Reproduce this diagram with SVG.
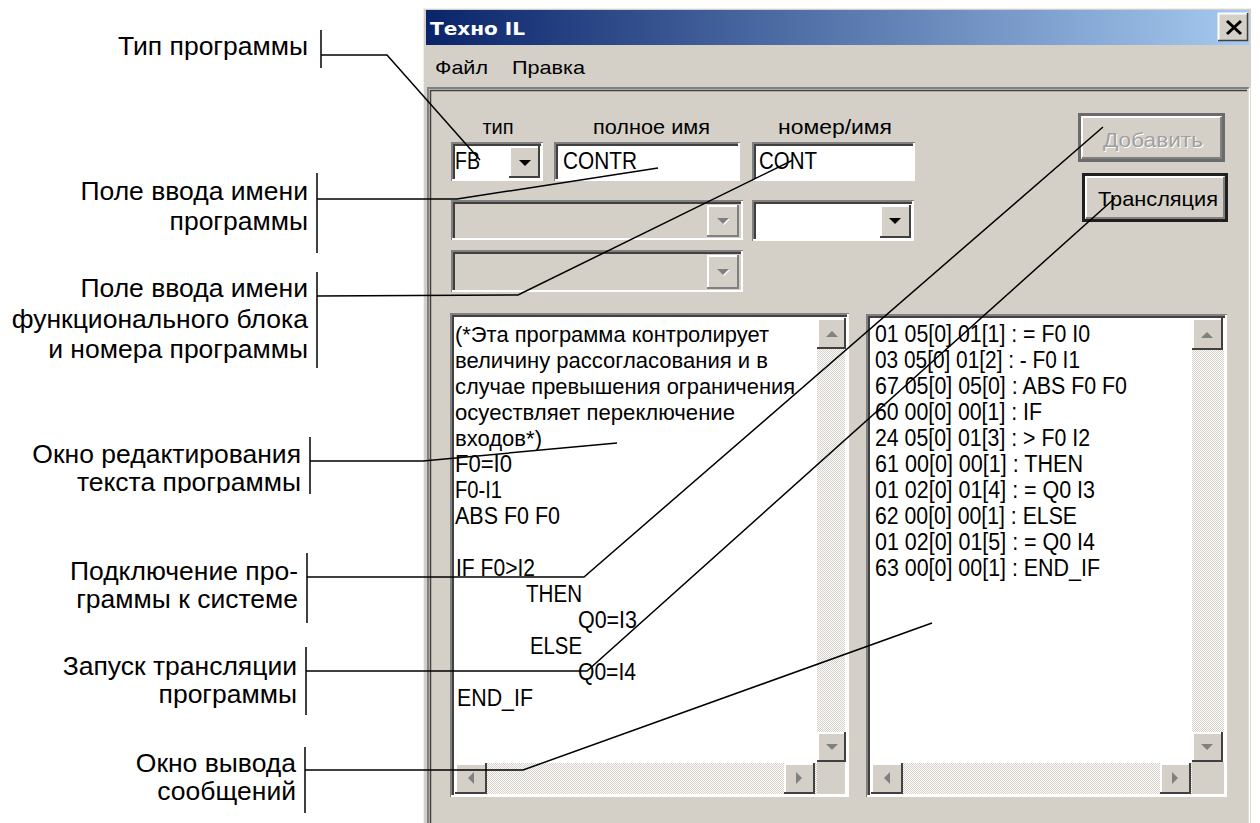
<svg xmlns="http://www.w3.org/2000/svg" width="1260" height="823" viewBox="0 0 1260 823">
<style>
.lbl{font-family:"Liberation Sans",Arial,sans-serif;font-size:26.5px;fill:#000;text-anchor:end}
.ui{font-family:"Liberation Sans",Arial,sans-serif;fill:#000}
.code{font-family:"Liberation Sans",Arial,sans-serif;font-size:23.5px;fill:#000}
.cyr{font-family:"Liberation Sans",Arial,sans-serif;font-size:22px;fill:#000}
.ld{fill:none;stroke:#000;stroke-width:1.5}
.bar{stroke:#000;stroke-width:1.5}
.d1{fill:none;stroke:#808080;stroke-width:2}
.d2{fill:none;stroke:#404040;stroke-width:2}
.l1{fill:none;stroke:#fff;stroke-width:2}
.l2{fill:none;stroke:#d4d0c8;stroke-width:2}
.face{fill:#d4d0c8}
.ag{fill:#808080}
.ab{fill:#000}
</style>
<defs>
<linearGradient id="tg" x1="0" y1="0" x2="1" y2="0">
<stop offset="0" stop-color="#0a246a"/>
<stop offset="1" stop-color="#a6caf0"/>
</linearGradient>
<pattern id="dith" width="2" height="2" patternUnits="userSpaceOnUse">
<rect width="2" height="2" fill="#ffffff"/>
<rect width="1" height="1" fill="#d4d0c8"/>
<rect x="1" y="1" width="1" height="1" fill="#d4d0c8"/>
</pattern>
<clipPath id="c4"><rect x="0" y="0" width="320" height="493"/></clipPath>
</defs>
<rect width="1260" height="823" fill="#fff"/>

<g id="window">
<rect x="423" y="8" width="828" height="820" fill="#d4d0c8"/>
<path d="M423.5 828 V8.5 H1251" stroke="#f0f0f0" fill="none"/>
<rect x="426" y="10" width="823" height="35" fill="url(#tg)"/>
<text x="430" y="35" font-family="'DejaVu Sans',Verdana,sans-serif" font-weight="bold" font-size="18" fill="#fff" textLength="95" lengthAdjust="spacingAndGlyphs">Техно IL</text>
<rect x="1218" y="13" width="30" height="28" class="face"/>
<path d="M1218.5 41 V13.5 H1248" class="l1" stroke-width="1.5"/>
<path d="M1218 40.5 H1247.5 V13" stroke="#404040" stroke-width="1.5" fill="none"/>
<path d="M1227 21 L1241 34 M1241 21 L1227 34" stroke="#000" stroke-width="3"/>
<text x="435" y="74" class="ui" font-size="19" textLength="53" lengthAdjust="spacingAndGlyphs">Файл</text>
<text x="512" y="74" class="ui" font-size="19" textLength="73" lengthAdjust="spacingAndGlyphs">Правка</text>
<path d="M428 830 V88 H1249" class="d1"/>
<path d="M430.5 830 V90.5 H1247" stroke="#404040" stroke-width="1.5" fill="none"/>
<path d="M1249.5 88 V830" stroke="#fff" stroke-width="1.5"/>
</g>

<g id="field-labels">
<text x="498" y="134" class="ui" font-size="20" text-anchor="middle">тип</text>
<text x="593" y="134" class="ui" font-size="20" textLength="117" lengthAdjust="spacingAndGlyphs">полное имя</text>
<text x="778" y="134" class="ui" font-size="20" textLength="114" lengthAdjust="spacingAndGlyphs">номер/имя</text>
</g>

<g id="combo-type">
<rect x="452" y="143" width="91" height="38" fill="#fff"/>
<path d="M452 181 V143 H543" class="d1"/><path d="M454 179 V145 H541" class="d2"/>
<path d="M452 180 H542 V143" class="l1"/>
<rect x="509" y="146" width="31" height="32" class="face"/>
<path d="M510 177 V147 H539" class="l1"/><path d="M509 177 H539 V146" class="d2"/>
<polygon points="519,160 531,160 525,166" class="ab"/>
<text x="455" y="169" class="code" textLength="25" lengthAdjust="spacingAndGlyphs">FB</text>
</g>

<g id="edit-fullname">
<rect x="555" y="143" width="185" height="38" fill="#fff"/>
<path d="M555 181 V143 H740" class="d1"/><path d="M557 179 V145 H738" class="d2"/>
<path d="M555 180 H739 V143" class="l1"/>
<text x="563" y="169" class="code" textLength="74" lengthAdjust="spacingAndGlyphs">CONTR</text>
</g>

<g id="edit-number">
<rect x="753" y="143" width="162" height="38" fill="#fff"/>
<path d="M753 181 V143 H915" class="d1"/><path d="M755 179 V145 H913" class="d2"/>
<path d="M753 180 H914 V143" class="l1"/>
<text x="759" y="169" class="code" textLength="58" lengthAdjust="spacingAndGlyphs">CONT</text>
</g>

<g id="combo-row2-left">
<rect x="452" y="201" width="291" height="39" class="face"/>
<path d="M452 240 V201 H743" class="d1"/><path d="M454 238 V203 H741" class="d2"/>
<path d="M452 239 H742 V201" class="l1"/>
<rect x="707" y="205" width="32" height="32" class="face"/>
<path d="M708 236 V206 H738" class="l1"/><path d="M707 236 H738 V205" class="d1"/>
<polygon points="718,219 730,219 724,225" fill="#fff"/>
<polygon points="717,218 729,218 723,224" class="ag"/>
</g>

<g id="combo-row2-right">
<rect x="753" y="201" width="161" height="40" fill="#fff"/>
<path d="M753 241 V201 H914" class="d1"/><path d="M755 239 V203 H912" class="d2"/>
<path d="M753 240 H913 V201" class="l1"/>
<rect x="880" y="205" width="31" height="33" class="face"/>
<path d="M881 237 V206 H910" class="l1"/><path d="M880 237 H910 V205" class="d2"/>
<polygon points="889,218 901,218 895,224" class="ab"/>
</g>

<g id="combo-row3">
<rect x="452" y="251" width="291" height="41" class="face"/>
<path d="M452 292 V251 H743" class="d1"/><path d="M454 290 V253 H741" class="d2"/>
<path d="M452 291 H742 V251" class="l1"/>
<rect x="707" y="255" width="32" height="34" class="face"/>
<path d="M708 288 V256 H738" class="l1"/><path d="M707 288 H738 V255" class="d1"/>
<polygon points="718,270 730,270 724,276" fill="#fff"/>
<polygon points="717,269 729,269 723,275" class="ag"/>
</g>

<g id="btn-add">
<rect x="1079.5" y="114.5" width="144" height="46" fill="#d4d0c8" stroke="#6b6b6b" stroke-width="3"/>
<path d="M1082 158 V117 H1221" class="l1"/>
<path d="M1082 158 H1221 V117" class="d1"/>
<text x="1104" y="148" class="ui" font-size="21" style="fill:#fff" textLength="100" lengthAdjust="spacingAndGlyphs">Добавить</text>
<text x="1103" y="147" class="ui" font-size="21" style="fill:#a0a0a0" textLength="100" lengthAdjust="spacingAndGlyphs">Добавить</text>
</g>

<g id="btn-translate">
<rect x="1083.5" y="174.5" width="143" height="46" fill="#d4d0c8" stroke="#202020" stroke-width="3"/>
<path d="M1086 218 V177 H1224" class="l1"/>
<path d="M1086 218 H1224 V177" class="d1"/>
<text x="1098" y="206" class="ui" font-size="21" textLength="120" lengthAdjust="spacingAndGlyphs">Трансляция</text>
</g>

<g id="edit-source">
<rect x="451" y="314" width="398" height="483" fill="#fff"/>
<path d="M451 797 V314 H849" class="d1"/><path d="M453 795 V316 H847" class="d2"/>
<path d="M451 796 H848 V314" class="l1"/>
<rect x="817" y="349" width="28" height="383" fill="url(#dith)"/>
<rect x="455" y="763" width="362" height="31" fill="url(#dith)"/>
<rect x="817" y="762" width="28" height="32" class="face"/>
<rect x="817" y="318" width="29" height="31" class="face"/>
<path d="M818 348 V319 H845" class="l1"/><path d="M817 348 H845 V318" class="d2"/>
<polygon points="826,337 838,337 832,331" class="ag"/>
<rect x="817" y="732" width="29" height="30" class="face"/>
<path d="M818 761 V733 H845" class="l1"/><path d="M817 761 H845 V732" class="d2"/>
<polygon points="826,744 838,744 832,750" class="ag"/>
<rect x="455" y="763" width="32" height="31" class="face"/>
<path d="M456 793 V764 H486" class="l1"/><path d="M455 793 H486 V763" class="d2"/>
<polygon points="474,772 474,784 468,778" class="ag"/>
<rect x="784" y="763" width="31" height="31" class="face"/>
<path d="M785 793 V764 H814" class="l1"/><path d="M784 793 H814 V763" class="d2"/>
<polygon points="796,772 796,784 802,778" class="ag"/>
<text x="455" y="342" class="cyr" textLength="314" lengthAdjust="spacingAndGlyphs">(*Эта программа контролирует</text>
<text x="455" y="368" class="cyr" textLength="313" lengthAdjust="spacingAndGlyphs">величину рассогласования и в</text>
<text x="455" y="394" class="cyr" textLength="340" lengthAdjust="spacingAndGlyphs">случае превышения ограничения</text>
<text x="455" y="420" class="cyr" textLength="280" lengthAdjust="spacingAndGlyphs">осуествляет переключение</text>
<text x="455" y="446" class="cyr" textLength="87" lengthAdjust="spacingAndGlyphs">входов*)</text>
<text x="455" y="472" class="code" textLength="57" lengthAdjust="spacingAndGlyphs">F0=I0</text>
<text x="455" y="498" class="code" textLength="47" lengthAdjust="spacingAndGlyphs">F0-I1</text>
<text x="455" y="524" class="code" textLength="105" lengthAdjust="spacingAndGlyphs">ABS F0 F0</text>
<text x="456" y="576" class="code" textLength="79" lengthAdjust="spacingAndGlyphs">IF F0&gt;I2</text>
<text x="526" y="602" class="code" textLength="56" lengthAdjust="spacingAndGlyphs">THEN</text>
<text x="578" y="628" class="code" textLength="59" lengthAdjust="spacingAndGlyphs">Q0=I3</text>
<text x="530" y="654" class="code" textLength="52" lengthAdjust="spacingAndGlyphs">ELSE</text>
<text x="578" y="680" class="code" textLength="58" lengthAdjust="spacingAndGlyphs">Q0=I4</text>
<text x="457" y="706" class="code" textLength="76" lengthAdjust="spacingAndGlyphs">END_IF</text>
</g>

<g id="edit-output">
<rect x="867" y="315" width="360" height="482" fill="#fff"/>
<path d="M867 797 V315 H1227" class="d1"/><path d="M869 795 V317 H1225" class="d2"/>
<path d="M867 796 H1226 V315" class="l1"/>
<rect x="1192" y="350" width="32" height="382" fill="url(#dith)"/>
<rect x="871" y="763" width="321" height="31" fill="url(#dith)"/>
<rect x="1192" y="762" width="32" height="32" class="face"/>
<rect x="1192" y="318" width="31" height="32" class="face"/>
<path d="M1193 349 V319 H1222" class="l1"/><path d="M1192 349 H1222 V318" class="d2"/>
<polygon points="1201,338 1213,338 1207,332" class="ag"/>
<rect x="1192" y="732" width="31" height="30" class="face"/>
<path d="M1193 761 V733 H1222" class="l1"/><path d="M1192 761 H1222 V732" class="d2"/>
<polygon points="1201,744 1213,744 1207,750" class="ag"/>
<rect x="871" y="763" width="32" height="31" class="face"/>
<path d="M872 793 V764 H902" class="l1"/><path d="M871 793 H902 V763" class="d2"/>
<polygon points="890,772 890,784 884,778" class="ag"/>
<rect x="1160" y="763" width="31" height="31" class="face"/>
<path d="M1161 793 V764 H1190" class="l1"/><path d="M1160 793 H1190 V763" class="d2"/>
<polygon points="1172,772 1172,784 1178,778" class="ag"/>
<text x="875" y="342" class="code" textLength="215" lengthAdjust="spacingAndGlyphs">01 05[0] 01[1] : = F0 I0</text>
<text x="875" y="368" class="code" textLength="205" lengthAdjust="spacingAndGlyphs">03 05[0] 01[2] : - F0 I1</text>
<text x="875" y="394" class="code" textLength="252" lengthAdjust="spacingAndGlyphs">67 05[0] 05[0] : ABS F0 F0</text>
<text x="875" y="420" class="code" textLength="167" lengthAdjust="spacingAndGlyphs">60 00[0] 00[1] : IF</text>
<text x="875" y="446" class="code" textLength="215" lengthAdjust="spacingAndGlyphs">24 05[0] 01[3] : &gt; F0 I2</text>
<text x="875" y="472" class="code" textLength="208" lengthAdjust="spacingAndGlyphs">61 00[0] 00[1] : THEN</text>
<text x="875" y="498" class="code" textLength="220" lengthAdjust="spacingAndGlyphs">01 02[0] 01[4] : = Q0 I3</text>
<text x="875" y="524" class="code" textLength="202" lengthAdjust="spacingAndGlyphs">62 00[0] 00[1] : ELSE</text>
<text x="875" y="550" class="code" textLength="220" lengthAdjust="spacingAndGlyphs">01 02[0] 01[5] : = Q0 I4</text>
<text x="875" y="576" class="code" textLength="225" lengthAdjust="spacingAndGlyphs">63 00[0] 00[1] : END_IF</text>
</g>

<g id="label-type">
<text x="308" y="55" class="lbl">Тип программы</text>
<line x1="321" y1="30" x2="321" y2="68" class="bar"/>
</g>
<g id="label-progname">
<text x="308" y="200" class="lbl">Поле ввода имени</text>
<text x="308" y="230" class="lbl">программы</text>
<line x1="317" y1="173" x2="317" y2="253" class="bar"/>
</g>
<g id="label-fbname">
<text x="308" y="297" class="lbl">Поле ввода имени</text>
<text x="308" y="328" class="lbl">функционального блока</text>
<text x="308" y="358" class="lbl">и номера программы</text>
<line x1="317" y1="272" x2="317" y2="368" class="bar"/>
</g>
<g id="label-editor">
<g clip-path="url(#c4)">
<text x="301" y="463" class="lbl">Окно редактирования</text>
<text x="301" y="491" class="lbl">текста программы</text>
</g>
<line x1="310" y1="437" x2="310" y2="494" class="bar"/>
</g>
<g id="label-add">
<text x="298" y="580" class="lbl">Подключение про-</text>
<text x="298" y="608" class="lbl">граммы к системе</text>
<line x1="307" y1="553" x2="307" y2="623" class="bar"/>
</g>
<g id="label-translate">
<text x="297" y="675" class="lbl">Запуск трансляции</text>
<text x="297" y="703" class="lbl">программы</text>
<line x1="306" y1="647" x2="306" y2="715" class="bar"/>
</g>
<g id="label-output">
<text x="296" y="772" class="lbl">Окно вывода</text>
<text x="296" y="800" class="lbl">сообщений</text>
<line x1="305" y1="747" x2="305" y2="813" class="bar"/>
</g>

<g id="connectors">
<polyline points="321,55 387,55 480,160" class="ld"/>
<polyline points="317,199 457,199 658,168" class="ld"/>
<polyline points="317,296 518,295 793,160" class="ld"/>
<polyline points="310,461 423,461 617,443" class="ld"/>
<polyline points="307,577 584,577 1103,127" class="ld"/>
<polyline points="306,671 587,671 1115,198" class="ld"/>
<polyline points="305,770 523,770 932,623" class="ld"/>
</g>
</svg>
